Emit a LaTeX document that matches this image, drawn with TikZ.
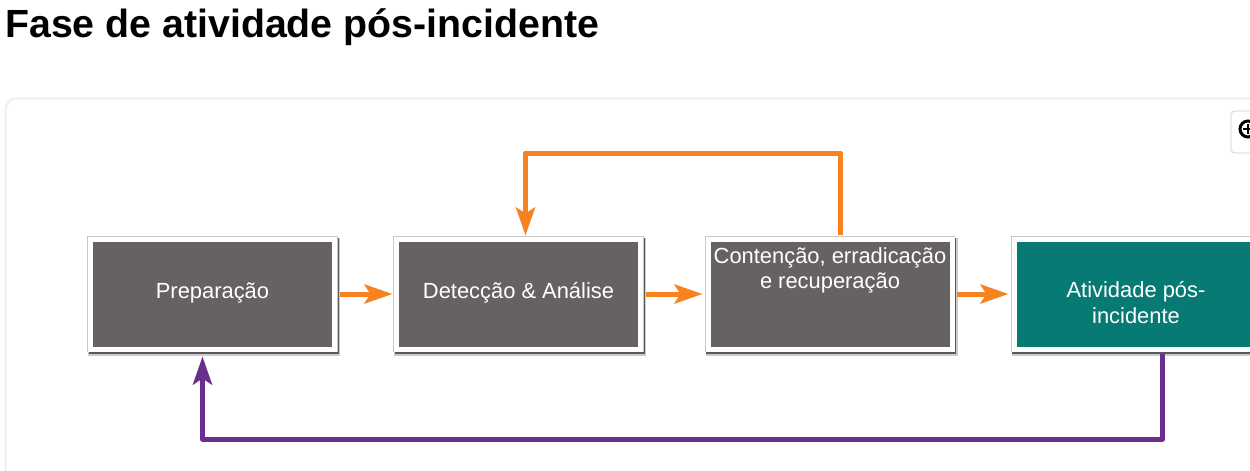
\documentclass[tikz,border=0pt]{standalone}
\usepackage{fontspec}
\setmainfont{Liberation Sans}
\usetikzlibrary{arrows.meta}
\definecolor{boxgray}{RGB}{102,98,98}
\definecolor{tealbox}{RGB}{8,122,116}
\definecolor{orng}{RGB}{246,130,32}
\definecolor{purp}{RGB}{106,46,140}
\begin{document}
\begin{tikzpicture}[x=1pt,y=-1pt,
  stepbox/.style={minimum width=244pt, minimum height=110pt, inner sep=0pt,
    draw=white, line width=5pt, fill=boxgray,
    preaction={draw=black!20, line width=8pt, transform canvas={xshift=1.5pt,yshift=-2.5pt}},
    preaction={draw=black!65, line width=6pt, transform canvas={xshift=1pt,yshift=-2pt}},
    preaction={draw=black!22, line width=6.5pt}},
  boxtext/.style={text=white, font=\fontsize{21.9}{26}\selectfont, align=center, inner sep=0pt},
  oarrow/.style={draw=orng, line width=5pt, line join=round,
    -{Stealth[length=28pt,width=19pt,inset=6pt]}},
  parrow/.style={draw=purp, line width=5pt, line join=round,
    -{Stealth[length=28pt,width=19pt,inset=6pt]}}]
\useasboundingbox (0,0) rectangle (1250,471);
\clip (0,0) rectangle (1250,471);
\fill[white] (0,0) rectangle (1250,471);
% panel
\draw[draw=black!4, line width=4pt, rounded corners=10pt] (6,99) rectangle (1300,540);
\draw[draw=black!7, line width=1pt, fill=white, rounded corners=10pt] (6,99) rectangle (1300,540);
% title
\node[anchor=base west, inner sep=0pt, font=\fontsize{39.3}{47}\selectfont\bfseries] (title) at (5,37) {Fase de atividade pós-incidente};
% icon
\draw[draw=black!18, line width=0.8pt, fill=white, rounded corners=4pt] (1231,111) rectangle (1270,153);
\draw[line width=3pt] (1248,129) circle (8pt);
\draw[line width=2.6pt] (1243,129) -- (1253,129) (1248,124) -- (1248,134);
% boxes
\node[stepbox] (b1) at (212.5,294) {};
\node[stepbox] (b2) at (518.5,294) {};
\node[stepbox] (b3) at (830,294) {};
\node[stepbox, fill=tealbox] (b4) at (1136,294) {};
% texts
\node[boxtext, anchor=base] (t1) at (212.5,298) {Preparação};
\node[boxtext, anchor=base] (t2) at (518.5,298) {Detecção \& Análise};
\node[boxtext, anchor=base] (t3a) at (830,263) {Contenção, erradicação};
\node[boxtext, anchor=base] (t3b) at (830,288) {e recuperação};
\node[boxtext, anchor=base] (t4a) at (1136,297) {Atividade pós-};
\node[boxtext, anchor=base] (t4b) at (1136,323) {incidente};
% connectors
\draw[oarrow, shorten <=2.5pt, shorten >=1.5pt] (b1.east) -- (b2.west);
\draw[oarrow, shorten <=2.5pt, shorten >=3pt] (b2.east) -- (b3.west);
\draw[oarrow, shorten <=2.5pt, shorten >=3pt] (b3.east) -- (b4.west);
\coordinate (rt) at (840.5,153);
\coordinate (lt) at (525.5,153);
\draw[oarrow, shorten <=1.5pt, shorten >=1pt] (rt |- b3.north) -- (rt) -- (lt) -- (lt |- b2.north);
\coordinate (pr) at (1162.5,439);
\coordinate (pl) at (202.5,439);
\draw[parrow, shorten <=2.5pt, shorten >=5pt] (pr |- b4.south) -- (pr) -- (pl) -- (pl |- b1.south);
\end{tikzpicture}
\end{document}
